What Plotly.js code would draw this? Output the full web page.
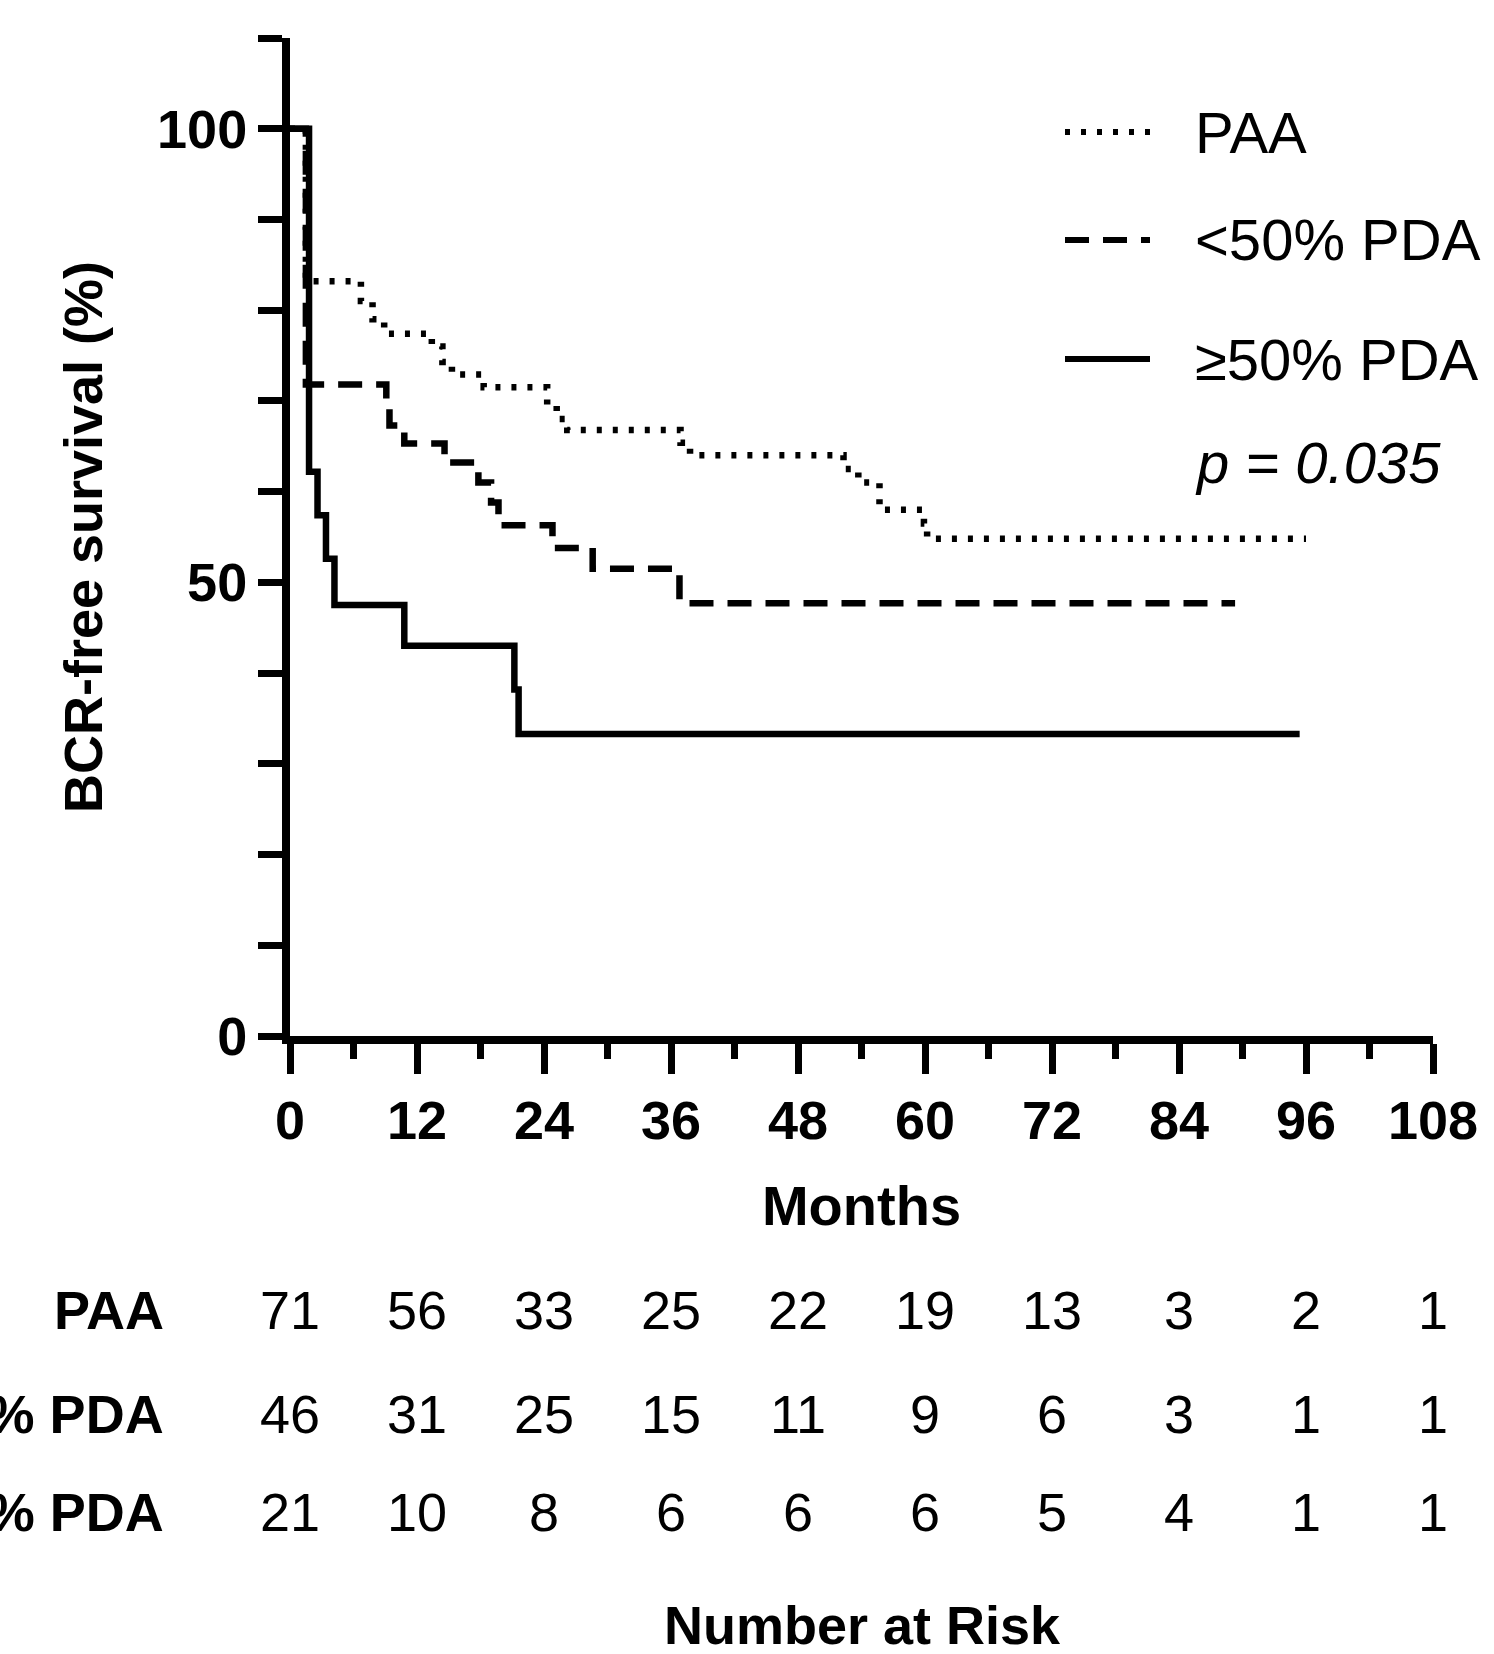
<!DOCTYPE html>
<html><head><meta charset="utf-8">
<script src="https://cdn.plot.ly/plotly-3.0.1.min.js"></script>
<style>body{margin:0;background:#fff}</style>
</head><body>
<div id="graph" style="width:1494px;height:1654px"></div>
<script>
// Kaplan-Meier steps (months, % BCR-free)
const paaX = [0, 1.5, 6.7, 7.8, 8.9, 13.4, 14.4, 15.3, 18.3, 24.3, 25.2, 26.2, 36.9, 37.8, 52.3, 53.7, 55.7, 59.9, 60.2, 96];
const paaY = [100, 83.2, 81, 79, 77.4, 76, 74.3, 72.9, 71.5, 69.5, 68, 66.8, 65.4, 64.0, 62.5, 61, 58, 56.5, 54.8, 54.8];
const lowX = [0, 1.5, 9.1, 9.4, 10.8, 14.6, 17.8, 19, 19.7, 24.8, 28.6, 36.8, 89.3];
const lowY = [100, 71.8, 69.5, 67.3, 65.3, 63.2, 61, 58.8, 56.3, 53.8, 51.5, 47.7, 47.7];
const highX = [0, 1.8, 2.6, 3.4, 4.2, 10.8, 21.2, 21.6, 95.4];
const highY = [100, 62.2, 57.4, 52.6, 47.5, 43, 38.2, 33.3, 33.3];

const riskMonths = [0, 12, 24, 36, 48, 60, 72, 84, 96, 108];
const riskPAA = [71, 56, 33, 25, 22, 19, 13, 3, 2, 1];
const riskLow = [46, 31, 25, 15, 11, 9, 6, 3, 1, 1];
const riskHigh = [21, 10, 8, 6, 6, 6, 5, 4, 1, 1];
const groupNames = ['PAA', '<50% PDA', '≥50% PDA'];

const W = 1494, H = 1654, L = 290, R = 61, T = 38, B = 618;
const py = p => (H - B - p) / (H - T - B);   // pixel row -> paper y
const px = p => (p - L) / (W - L - R);       // pixel col -> paper x

const dashes = ['5px,11px', '24px,14px', 'solid'];
const traces = [[paaX, paaY], [lowX, lowY], [highX, highY]].map((d, i) => ({
  x: d[0], y: d[1], mode: 'lines', line: {shape: 'hv', color: '#000', width: 6.5, dash: dashes[i]},
  showlegend: false, hoverinfo: 'skip', cliponaxis: false
}));

const ann = [];
const shapes = [];
const rowsY = [1310, 1414, 1512];
[riskPAA, riskLow, riskHigh].forEach((row, r) => {
  ann.push({xref: 'paper', yref: 'paper', x: px(166), y: py(rowsY[r]), xanchor: 'right', yanchor: 'middle',
    text: '<b>' + groupNames[r].replace('<', '&lt;') + '</b>', showarrow: false, font: {size: 54, color: '#000'}});
  row.forEach((v, i) => ann.push({xref: 'x', yref: 'paper', x: riskMonths[i], y: py(rowsY[r]),
    xanchor: 'center', yanchor: 'middle', text: String(v), showarrow: false, font: {size: 54, color: '#000'}}));
});
ann.push({xref: 'paper', yref: 'paper', x: px(862), y: py(1625), text: '<b>Number at Risk</b>', showarrow: false,
  yanchor: 'middle', font: {size: 54, color: '#000'}});

// legend
const legY = [132, 240, 359];
legY.forEach((yy, i) => {
  shapes.push({type: 'line', xref: 'paper', yref: 'paper', x0: px(1065), x1: px(1150), y0: py(yy), y1: py(yy),
    line: {color: '#000', width: 6, dash: dashes[i]}});
  ann.push({xref: 'paper', yref: 'paper', x: px(1193), y: py(yy), xanchor: 'left', yanchor: 'middle',
    text: groupNames[i].replace('<', '&lt;'), showarrow: false, font: {size: 58, color: '#000'}});
});
ann.push({xref: 'paper', yref: 'paper', x: px(1193), y: py(462), xanchor: 'left', yanchor: 'middle',
  text: '<i>p = 0.035</i>', showarrow: false, font: {size: 58, color: '#000'}});

const layout = {
  width: W, height: H, margin: {l: L, r: R, t: T, b: B, pad: 0},
  font: {family: 'Liberation Sans, Arial, sans-serif', color: '#000'},
  paper_bgcolor: '#fff', plot_bgcolor: '#fff',
  xaxis: {range: [0, 108], tickvals: riskMonths, ticks: 'outside', ticklen: 30, tickwidth: 7, tickcolor: '#000',
    showline: true, linewidth: 8, linecolor: '#000', showgrid: false, zeroline: false,
    tickfont: {size: 54, weight: 'bold'}, minor: {dtick: 6, ticks: 'outside', ticklen: 15, tickwidth: 7, tickcolor: '#000'},
    title: {text: '<b>Months</b>', font: {size: 56}, standoff: 40}},
  yaxis: {range: [0, 110], tickvals: [0, 50, 100], ticks: 'outside', ticklen: 24, tickwidth: 7, tickcolor: '#000',
    showline: true, linewidth: 8, linecolor: '#000', showgrid: false, zeroline: false,
    tickfont: {size: 54, weight: 'bold'}, minor: {tickvals: [10, 20, 30, 40, 60, 70, 80, 90, 110], ticks: 'outside', ticklen: 24, tickwidth: 7, tickcolor: '#000'},
    title: {text: '<b>BCR-free survival (%)</b>', font: {size: 54}, standoff: 40}},
  annotations: ann, shapes: shapes
};
Plotly.newPlot('graph', traces, layout, {displayModeBar: false, staticPlot: true});
</script>
</body></html>
